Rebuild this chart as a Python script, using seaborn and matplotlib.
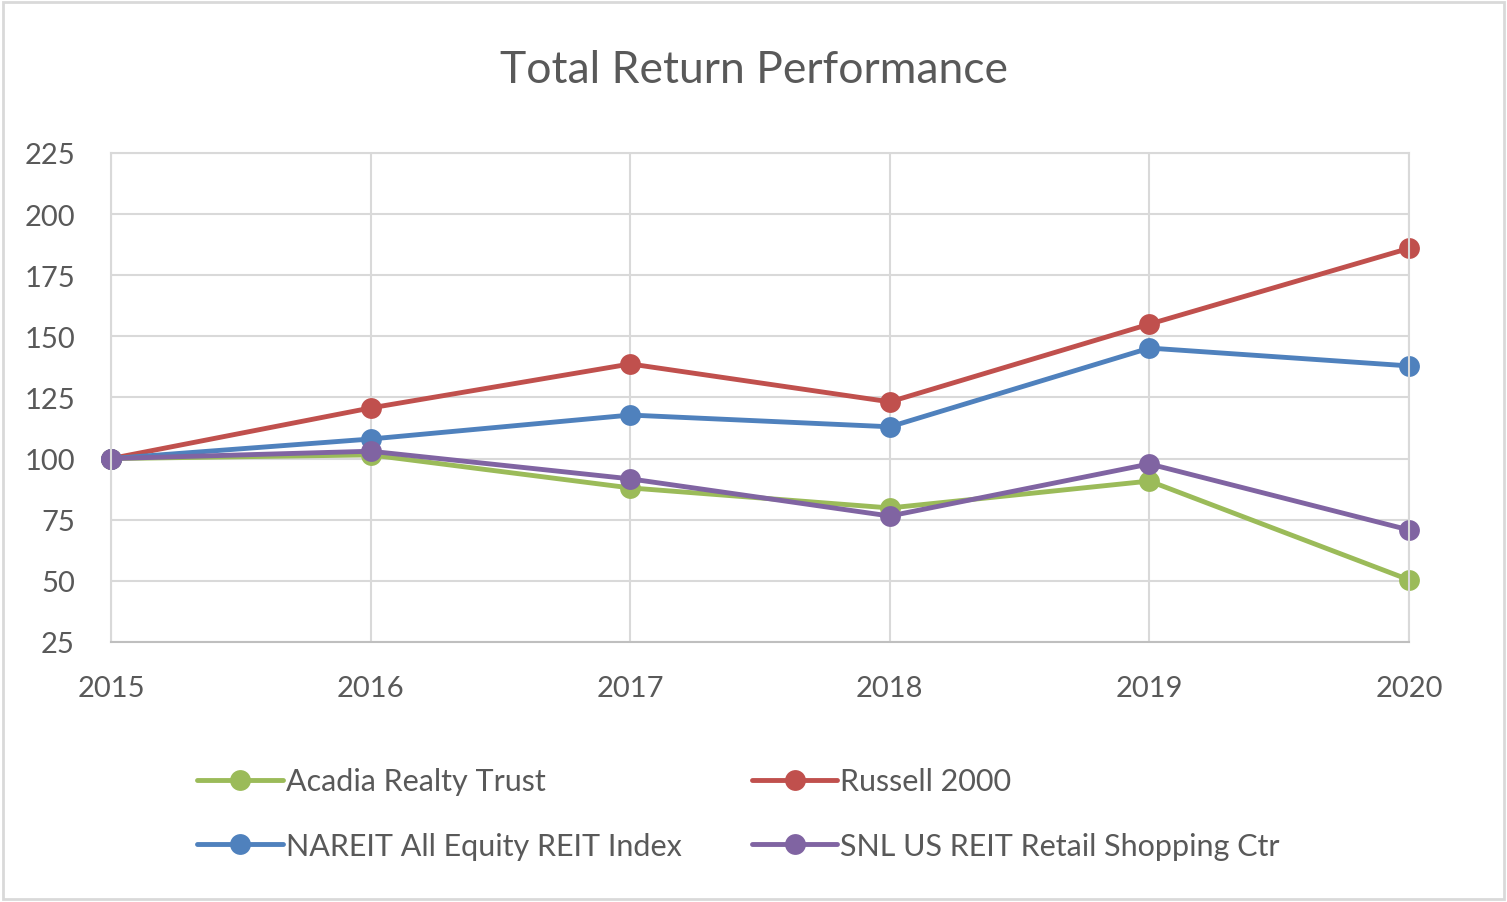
import pandas as pd
import matplotlib.pyplot as plt
import seaborn as sns
from matplotlib.patches import Rectangle

years = [2015, 2016, 2017, 2018, 2019, 2020]
acadia = [100, 101.5, 88, 79.8, 90.8, 50.4]
russell = [100, 120.7, 138.7, 123.2, 155, 186]
nareit = [100, 108, 117.8, 113, 145.2, 137.9]
snl = [100, 103, 91.7, 76.5, 97.8, 70.8]

series = {
    'Acadia Realty Trust': acadia,
    'NAREIT All Equity REIT Index': nareit,
    'Russell 2000': russell,
    'SNL US REIT Retail Shopping Ctr': snl,
}
colors = {
    'Acadia Realty Trust': '#9BBB59',
    'NAREIT All Equity REIT Index': '#4F81BD',
    'Russell 2000': '#C0504D',
    'SNL US REIT Retail Shopping Ctr': '#8064A2',
}

df = pd.DataFrame([
    {'year': y, 'value': v, 'series': name}
    for name, vals in series.items() for y, v in zip(years, vals)
])

sns.set_style('white')
plt.rcParams['font.family'] = ['Lato', 'DejaVu Sans']

fig = plt.figure(figsize=(15.07, 9.03), dpi=100)
ax = fig.add_axes([0.0737, 0.288, 0.8613, 0.5415])

# draw in z-order similar to the reference (purple on top)
for name in ['Acadia Realty Trust', 'Russell 2000', 'NAREIT All Equity REIT Index',
             'SNL US REIT Retail Shopping Ctr']:
    sub = df[df['series'] == name]
    sns.lineplot(data=sub, x='year', y='value', ax=ax, color=colors[name],
                 marker='o', markersize=15, markeredgewidth=0, linewidth=3.5,
                 label=name, clip_on=False)

ax.set_xlim(2015, 2020)
ax.set_ylim(25, 225)
ax.set_yticks(range(25, 226, 25))
ax.set_xticks(years)
ax.grid(True, color='#D9D9D9', linewidth=1.5)
for s in ax.spines.values():
    s.set_color('#D9D9D9')
    s.set_linewidth(1.5)
ax.spines['bottom'].set_color('#BFBFBF')
ax.tick_params(axis='y', labelsize=21, colors='#595959', length=0, pad=26)
ax.tick_params(axis='x', labelsize=21, colors='#595959', length=8,
               color='#BFBFBF', direction='out', pad=16)
ax.set_xlabel('')
ax.set_ylabel('')
ax.set_axisbelow(True)

handles, labels = ax.get_legend_handles_labels()
order = ['Acadia Realty Trust', 'NAREIT All Equity REIT Index', 'Russell 2000',
         'SNL US REIT Retail Shopping Ctr']
hmap = dict(zip(labels, handles))
ax.legend([hmap[k] for k in order], order, ncol=2, loc='upper left',
          bbox_to_anchor=(0.045, -0.2), frameon=False, fontsize=22,
          labelcolor='#595959', handlelength=2.8, handletextpad=0.1,
          columnspacing=2.3, labelspacing=1.2)

fig.text(0.5, 0.922, 'Total Return Performance', ha='center', va='center',
         fontsize=32, color='#595959')
fig.patches.append(Rectangle((0.002, 0.003), 0.996, 0.994, transform=fig.transFigure,
                             fill=False, edgecolor='#D9D9D9', linewidth=2))

fig.savefig('out.png', dpi=100)
